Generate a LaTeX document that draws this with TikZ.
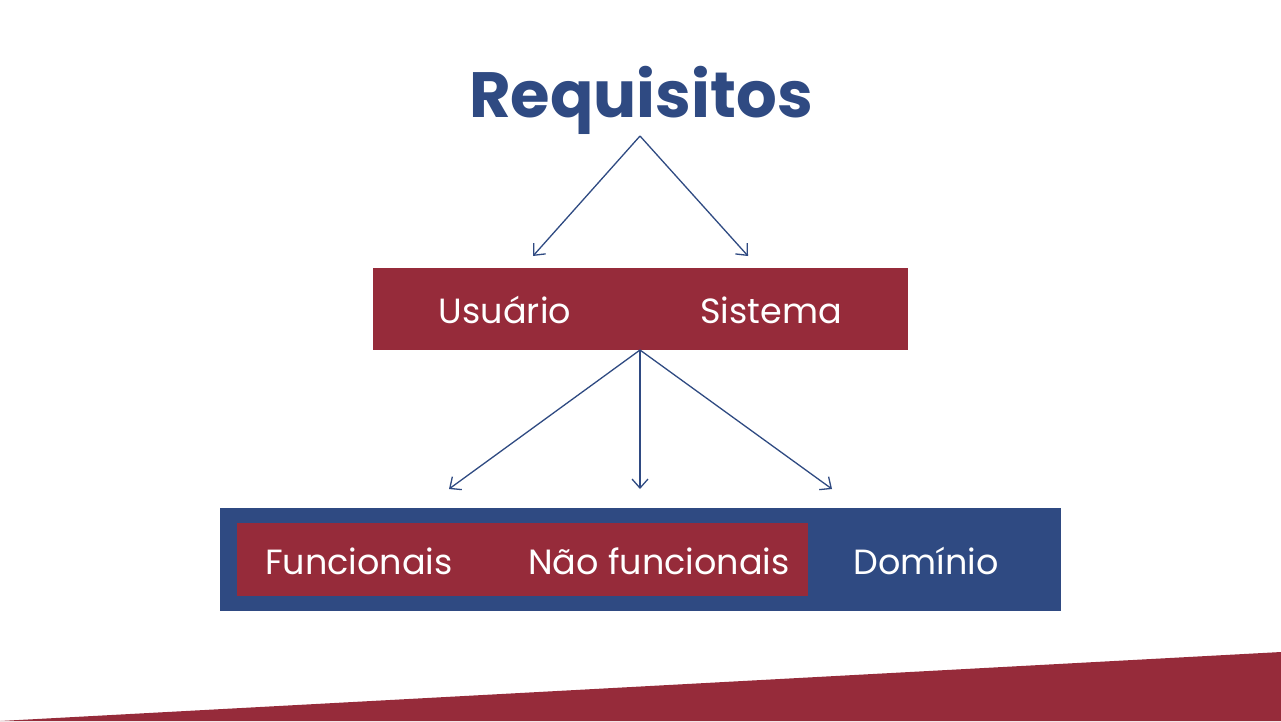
\documentclass[tikz,border=0pt]{standalone}
\usepackage{fontspec}
\setmainfont{Poppins}
\usetikzlibrary{arrows.meta}
\definecolor{rred}{HTML}{962B3A}
\definecolor{rblue}{HTML}{2F4A82}
\begin{document}
\begin{tikzpicture}[x=1pt,y=-1pt,
 lbl/.style={text=white,font=\fontsize{35}{40}\selectfont,inner sep=0},
 arr/.style={draw=rblue,line width=1.3pt,-{Straight Barb[length=9pt,width=16pt]}}]
\useasboundingbox (0,0) rectangle (1281,721);
\fill[white] (0,0) rectangle (1281,721);
\fill[rred] (0,721) -- (1281,652) -- (1281,721) -- cycle;
\node[text=rblue,font=\fontsize{64}{70}\selectfont\bfseries,inner sep=0] (title) at (641,100) {Requisitos};
\fill[rred] (373,268) rectangle (908,350);
\coordinate (top) at (640,136);
\coordinate (mid) at (640,350);
\coordinate (a1) at (533,256);
\coordinate (a2) at (748,256);
\coordinate (b1) at (449,489);
\coordinate (b2) at (640,489);
\coordinate (b3) at (832,489);
\node[lbl] (u) at (505,310) {Usuário};
\node[lbl] (s) at (771,310) {Sistema};
\draw[arr] (top) -- (a1);
\draw[arr] (top) -- (a2);
\draw[arr] (mid) -- (b1);
\draw[arr] (mid) -- (b2);
\draw[arr] (mid) -- (b3);
\fill[rblue] (220,508) rectangle (1061,611);
\fill[rred] (237,523) rectangle (808,596);
\node[lbl] (f) at (359,561) {Funcionais};
\node[lbl] (n) at (659,561) {Não funcionais};
\node[lbl] (d) at (926,561) {Domínio};
\end{tikzpicture}
\end{document}
